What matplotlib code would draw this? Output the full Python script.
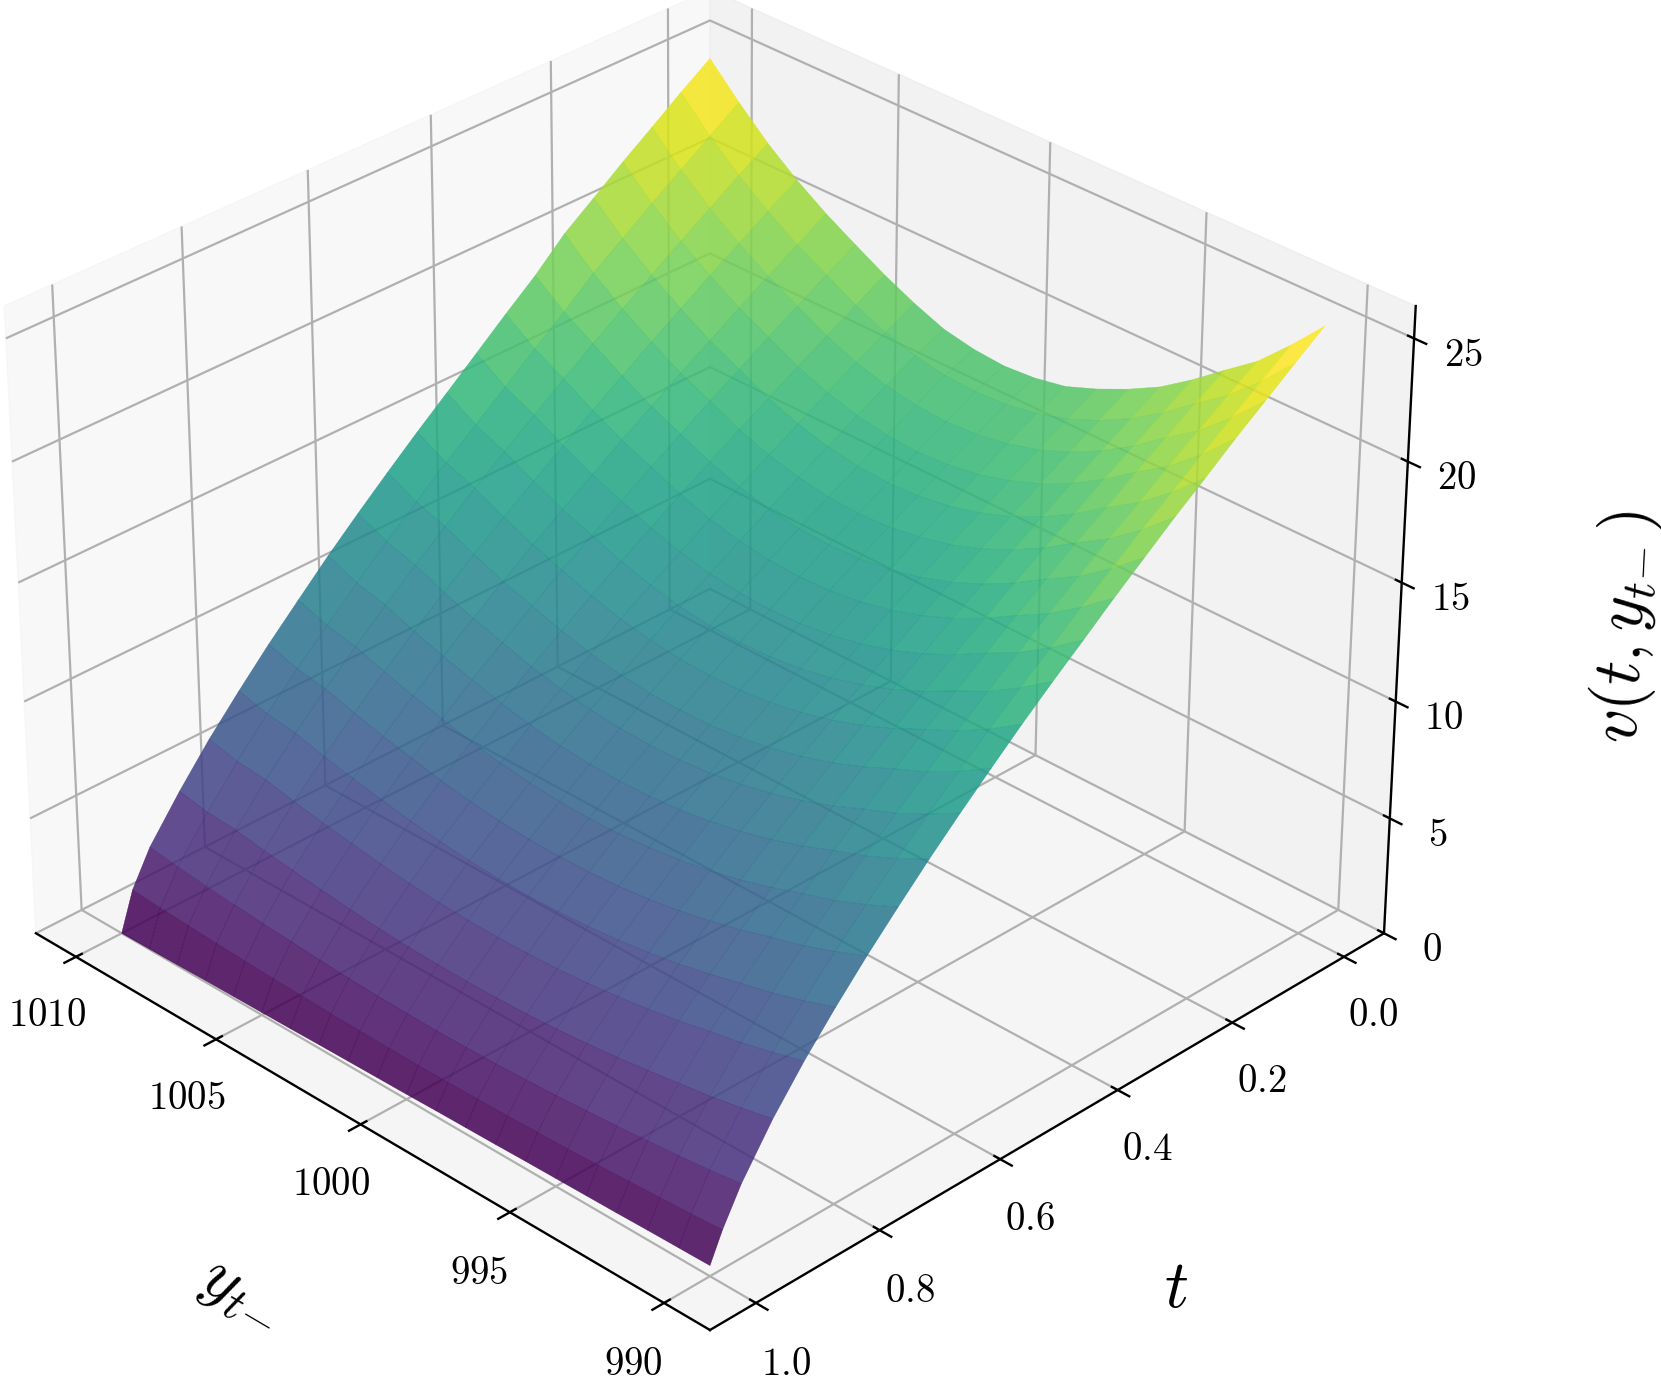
import matplotlib
matplotlib.use("Agg")
import matplotlib.pyplot as plt
import numpy as np

plt.rcParams['mathtext.fontset'] = 'cm'
plt.rcParams['font.family'] = 'serif'
plt.rcParams['font.serif'] = ['cmr10', 'DejaVu Serif']
plt.rcParams['axes.formatter.use_mathtext'] = True

# values
t_values = [0.0, 0.05, 0.1, 0.15, 0.2, 0.25, 0.3, 0.35, 0.4, 0.45, 0.5,
            0.55, 0.6, 0.65, 0.7, 0.75, 0.8, 0.85, 0.9, 0.95, 0.98, 1.0]
y_values = [990, 991, 992, 993, 994, 995, 996, 997, 998, 999, 1000,
            1001, 1002, 1003, 1004, 1005, 1006, 1007, 1008, 1009, 1010]
v_values = [
    [25.5, 24.13, 22.87, 21.9, 20.9, 20.0, 19.3, 18.7, 18.2, 17.95, 17.85, 17.95, 18.2, 18.7, 19.3, 20.0, 20.73, 21.57, 22.55, 23.72, 25.0],
    [24.61, 23.27, 22.09, 21.15, 20.15, 19.3, 18.61, 18.06, 17.68, 17.45, 17.37, 17.45, 17.68, 18.06, 18.61, 19.3, 19.99, 20.83, 21.77, 22.86, 24.14],
    [23.69, 22.4, 21.27, 20.36, 19.4, 18.58, 17.91, 17.39, 17.02, 16.8, 16.72, 16.8, 17.02, 17.39, 17.91, 18.58, 19.24, 20.05, 20.96, 22.01, 23.23],
    [22.78, 21.53, 20.44, 19.57, 18.65, 17.86, 17.22, 16.72, 16.36, 16.15, 16.07, 16.15, 16.36, 16.72, 17.22, 17.86, 18.5, 19.28, 20.15, 21.16, 22.34],
    [21.81, 20.62, 19.57, 18.74, 17.85, 17.1, 16.48, 16.01, 15.66, 15.46, 15.39, 15.46, 15.66, 16.01, 16.48, 17.1, 17.71, 18.46, 19.3, 20.26, 21.39],
    [20.87, 19.72, 18.72, 17.93, 17.08, 16.36, 15.77, 15.31, 14.99, 14.79, 14.72, 14.79, 14.99, 15.31, 15.77, 16.36, 16.94, 17.66, 18.46, 19.38, 20.46],
    [19.87, 18.78, 17.83, 17.08, 16.27, 15.58, 15.02, 14.58, 14.27, 14.08, 14.02, 14.08, 14.27, 14.58, 15.02, 15.58, 16.14, 16.82, 17.58, 18.33, 19.28],
    [18.87, 17.85, 16.94, 16.22, 15.45, 14.8, 14.27, 13.85, 13.56, 13.38, 13.32, 13.38, 13.56, 13.85, 14.27, 14.8, 15.33, 15.98, 16.7, 17.37, 18.25],
    [17.82, 16.85, 16.0, 15.32, 14.6, 13.98, 13.48, 13.09, 12.81, 12.64, 12.58, 12.64, 12.81, 13.09, 13.48, 13.98, 14.48, 15.09, 15.77, 16.36, 17.18],
    [16.79, 15.87, 15.06, 14.42, 13.74, 13.16, 12.69, 12.32, 12.05, 11.9, 11.84, 11.9, 12.05, 12.32, 12.69, 13.16, 13.63, 14.2, 14.84, 15.36, 16.11],
    [15.72, 14.85, 14.1, 13.5, 12.86, 12.32, 11.88, 11.53, 11.29, 11.14, 11.09, 11.14, 11.29, 11.53, 11.88, 12.32, 12.76, 13.3, 13.9, 14.37, 15.06],
    [14.59, 13.79, 13.09, 12.54, 11.94, 11.44, 11.03, 10.71, 10.48, 10.34, 10.3, 10.34, 10.48, 10.71, 11.03, 11.44, 11.84, 12.35, 12.9, 13.32, 13.96],
    [13.44, 12.71, 12.06, 11.55, 11.0, 10.54, 10.16, 9.87, 9.65, 9.53, 9.49, 9.53, 9.65, 9.87, 10.16, 10.54, 10.91, 11.38, 11.89, 12.26, 12.83],
    [12.24, 11.57, 10.99, 10.52, 10.02, 9.6, 9.25, 8.99, 8.79, 8.68, 8.64, 8.68, 8.79, 8.99, 9.25, 9.6, 9.94, 10.36, 10.83, 11.14, 11.66],
    [10.97, 10.37, 9.84, 9.43, 8.98, 8.6, 8.29, 8.05, 7.88, 7.77, 7.74, 7.77, 7.88, 8.05, 8.29, 8.6, 8.91, 9.29, 9.7, 9.96, 10.41],
    [9.66, 9.14, 8.67, 8.31, 7.91, 7.58, 7.31, 7.09, 6.94, 6.85, 6.82, 6.85, 6.94, 7.09, 7.31, 7.58, 7.85, 8.19, 8.55, 8.76, 9.15],
    [8.26, 7.81, 7.42, 7.1, 6.77, 6.48, 6.25, 6.07, 5.94, 5.86, 5.83, 5.86, 5.94, 6.07, 6.25, 6.48, 6.72, 6.99, 7.31, 7.48, 7.8],
    [6.76, 6.39, 6.07, 5.81, 5.53, 5.3, 5.11, 4.96, 4.85, 4.79, 4.77, 4.79, 4.85, 4.96, 5.11, 5.3, 5.49, 5.72, 5.98, 6.1, 6.38],
    [5.09, 4.81, 4.56, 4.37, 4.17, 3.99, 3.85, 3.73, 3.65, 3.61, 3.59, 3.61, 3.65, 3.73, 3.85, 3.99, 4.14, 4.3, 4.5, 4.58, 4.8],
    [3.13, 2.96, 2.81, 2.69, 2.56, 2.46, 2.37, 2.3, 2.25, 2.22, 2.21, 2.22, 2.25, 2.3, 2.37, 2.46, 2.54, 2.65, 2.77, 2.91, 3.07],
    [1.65, 1.56, 1.49, 1.42, 1.35, 1.29, 1.25, 1.21, 1.19, 1.17, 1.16, 1.17, 1.19, 1.21, 1.25, 1.29, 1.34, 1.4, 1.46, 1.53, 1.62],
    [0.45, 0.43, 0.41, 0.38, 0.36, 0.34, 0.32, 0.29, 0.27, 0.25, 0.22, 0.2, 0.18, 0.16, 0.13, 0.11, 0.09, 0.07, 0.04, 0.02, 0.0],
]

y_ticks = [990, 995, 1000, 1005, 1010]
t_ticks = [0.0, 0.2, 0.4, 0.6, 0.8, 1.0]
v_ticks = [0, 5, 10, 15, 20, 25]

fig = plt.figure(figsize=(16.61, 13.76), dpi=100)
ax = fig.add_axes([-0.0412, -0.0211, 0.9126, 1.1013], projection='3d')

Y, T = np.meshgrid(y_values, t_values)
surf = ax.plot_surface(Y, T, np.array(v_values), cmap='viridis', alpha=0.85, linewidth=0.3,
                       antialiased=True)
surf.set_edgecolor('face')

ax.view_init(elev=31, azim=135)
ax.set_zlim(0, 26.3)
ax.set_xticks(y_ticks)
ax.set_xticklabels(['$%d$' % y for y in y_ticks])
ax.set_yticks(t_ticks)
ax.set_yticklabels(['$%.1f$' % t for t in t_ticks])
ax.set_zticks(v_ticks)
ax.set_zticklabels(['$%d$' % v for v in v_ticks])
ax.tick_params(labelsize=28, pad=16)
ax.tick_params(axis='z', pad=12)

ax.set_xlabel(r'$y_{t\!-}$', fontsize=48, labelpad=75)
ax.set_ylabel(r'$t$', fontsize=48, labelpad=72)
ax.set_zlabel(r'$v(t,y_{t\!-})$', fontsize=48, labelpad=72)

for axis in [ax.xaxis, ax.yaxis, ax.zaxis]:
    axis.line.set_linewidth(1.7)
    axis._axinfo['grid']['linewidth'] = 1.6
    axis._axinfo['tick']['linewidth'] = {True: 1.7, False: 1.0}

fig.savefig('out.png', dpi=100)
